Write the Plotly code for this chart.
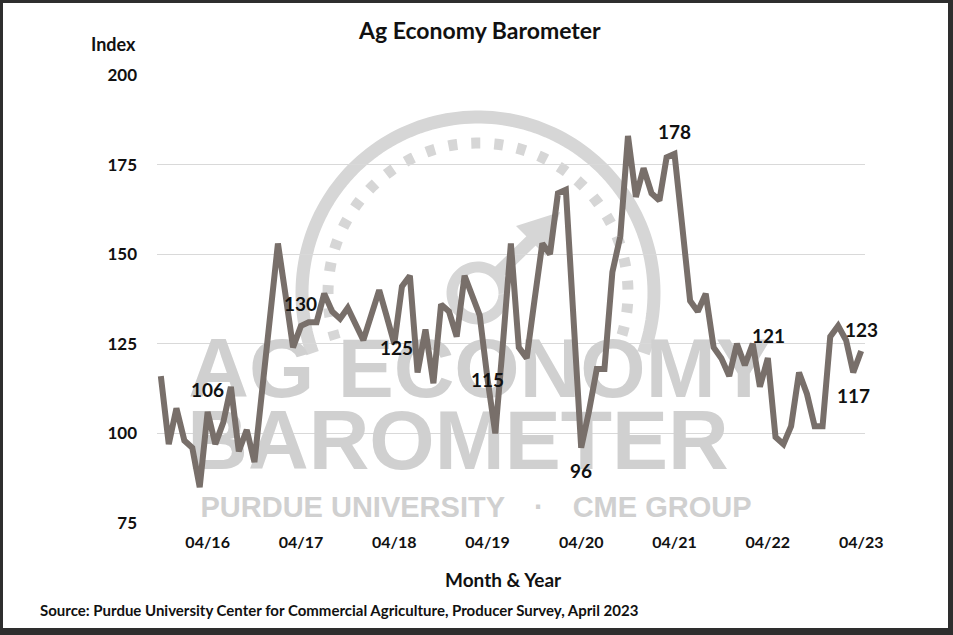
import numpy as np
import pandas as pd
import plotly.graph_objects as go

# ---------------- data ----------------
start_month = "2015-10-01"
index_values = [
    116, 97, 107, 98, 96, 85, 106, 97, 103, 113, 95, 101, 92, 113, 133,
    153, 138, 124, 130, 131, 131, 139, 134, 132, 135, 130, 126, 133, 140, 133,
    125, 141, 144, 117, 129, 114, 136, 134, 127, 144, 138, 133, 115, 100, 126,
    153, 124, 121, 137, 153, 150, 167, 168, 132, 96, 106, 118, 118, 145, 155,
    183, 166, 174, 167, 165, 177, 178, 158, 137, 134, 139, 124, 121, 116, 125,
    119, 125, 113, 121, 99, 97, 102, 117, 111, 102, 102, 127, 130, 126, 117, 123,
]
months = pd.date_range(start_month, periods=len(index_values), freq="MS")

tick_months = ["2016-04-01", "2017-04-01", "2018-04-01", "2019-04-01",
               "2020-04-01", "2021-04-01", "2022-04-01", "2023-04-01"]
tick_text = ["04/16", "04/17", "04/18", "04/19", "04/20", "04/21", "04/22", "04/23"]
y_ticks = [75, 100, 125, 150, 175, 200]

labeled_months = ["2016-04-01", "2017-04-01", "2018-04-01", "2019-04-01", "2020-04-01",
                  "2021-04-01", "2022-04-01", "2023-03-01", "2023-04-01"]
label_yshift = [22, 22, -4, 0, -23, 22, 23, -23, 21]
label_xshift = [0, 0, 2, 0, 0, 0, 1, 0, 0]

# ---------------- layout geometry ----------------
W, H = 953, 635
PL, PT, PW, PH = 157, 75, 708, 448
X0, X1 = pd.Timestamp("2015-09-16"), pd.Timestamp("2023-04-16")
Y0, Y1 = 75, 200


def px(x):
    return (x - PL) / PW


def py(y):
    return (PT + PH - y) / PH


def to_date(x):
    return X0 + (X1 - X0) * ((x - PL) / PW)


def to_val(y):
    return Y1 - (y - PT) * (Y1 - Y0) / PH


FONT = "Lato, 'Open Sans', sans-serif"
LINE_COLOR = "#786f6a"
WM = "#d0d0d0"

fig = go.Figure()

# watermark text (behind the line)
wm_font = "'Liberation Sans', Arial, sans-serif"
fig.add_trace(go.Scatter(
    x=[to_date(480), to_date(458), to_date(476)],
    y=[to_val(376), to_val(448), to_val(510)],
    mode="text",
    text=["AG ECONOMY", "BAROMETER", "PURDUE UNIVERSITY\u2002\u2002·\u2002\u2002CME GROUP"],
    textfont=dict(family=wm_font, size=[84, 84, 29], color=WM, weight="bold"),
    textposition="middle center",
    hoverinfo="skip", showlegend=False, cliponaxis=False,
))

# data line
fig.add_trace(go.Scatter(
    x=months, y=index_values, mode="lines",
    line=dict(color=LINE_COLOR, width=6, shape="linear"),
    hoverinfo="skip", showlegend=False,
))

shapes = []
# white card with dark frame
shapes.append(dict(type="rect", xref="paper", yref="paper",
                   x0=px(3), x1=px(948), y0=py(628), y1=py(3),
                   fillcolor="white", line=dict(width=0), layer="below"))


def poly(points):
    return "M " + " L ".join(f"{px(a):.5f},{py(b):.5f}" for a, b in points)


cx, cy = 478, 293
ang = np.radians(np.linspace(200, -20, 120))
outer = [(cx + 176 * np.cos(t), cy - 176 * np.sin(t)) for t in ang]
shapes.append(dict(type="path", xref="paper", yref="paper", path=poly(outer),
                   line=dict(color="#d6d6d6", width=13), layer="below"))
ang2 = np.radians(np.linspace(198, -18, 120))
inner = [(cx + 150 * np.cos(t), cy - 150 * np.sin(t)) for t in ang2]
shapes.append(dict(type="path", xref="paper", yref="paper", path=poly(inner),
                   line=dict(color="#d6d6d6", width=11, dash="9px,14px"), layer="below"))
ang3 = np.radians(np.linspace(0, 360, 80))
hub = [(cx + 26 * np.cos(t), cy - 26 * np.sin(t)) for t in ang3]
shapes.append(dict(type="path", xref="paper", yref="paper", path=poly(hub),
                   line=dict(color="#d6d6d6", width=11), layer="below"))
shapes.append(dict(type="path", xref="paper", yref="paper",
                   path=poly([(497, 274), (532, 240)]),
                   line=dict(color="#d6d6d6", width=13), layer="below"))
shapes.append(dict(type="path", xref="paper", yref="paper",
                   path=poly([(560, 212), (516, 226), (546, 256)]) + " Z",
                   fillcolor="#d6d6d6", line=dict(width=0), layer="below"))

annotations = []
# data labels
for m, ys, xs in zip(labeled_months, label_yshift, label_xshift):
    i = list(months).index(pd.Timestamp(m))
    annotations.append(dict(x=months[i], y=index_values[i], xref="x", yref="y",
                            text=str(index_values[i]), showarrow=False,
                            yshift=ys, xshift=xs,
                            font=dict(family=FONT, size=19, color="#111", weight="bold")))

annotations += [
    dict(x=px(479), y=py(30), xref="paper", yref="paper", text="Ag Economy Barometer",
         showarrow=False, xanchor="center", yanchor="middle",
         font=dict(family=FONT, size=23, color="#111", weight="bold")),
    dict(x=px(113), y=py(44), xref="paper", yref="paper", text="Index",
         showarrow=False, xanchor="center", yanchor="middle",
         font=dict(family=FONT, size=18, color="#111", weight="bold")),
    dict(x=px(503), y=py(579), xref="paper", yref="paper", text="Month &amp; Year",
         showarrow=False, xanchor="center", yanchor="middle",
         font=dict(family=FONT, size=19, color="#111", weight="bold")),
    dict(x=px(38), y=py(610), xref="paper", yref="paper",
         text="Source: Purdue University Center for Commercial Agriculture, Producer Survey, April 2023",
         showarrow=False, xanchor="left", yanchor="middle",
         font=dict(family=FONT, size=15, color="#111", weight="bold")),
]

fig.update_layout(
    width=W, height=H,
    margin=dict(l=PL, r=W - PL - PW, t=PT, b=H - PT - PH, pad=0),
    paper_bgcolor="#2e2e2e", plot_bgcolor="rgba(0,0,0,0)",
    showlegend=False, hovermode=False,
    shapes=shapes, annotations=annotations,
    xaxis=dict(type="date", range=[X0, X1], tickvals=tick_months, ticktext=tick_text,
               showgrid=False, zeroline=False, showline=False, ticks="",
               ticklabelstandoff=8,
               tickfont=dict(family=FONT, size=16, color="#111", weight="bold")),
    yaxis=dict(range=[Y0, Y1], tickvals=y_ticks, showgrid=True, gridcolor="#d9d9d9",
               gridwidth=1, zeroline=False, showline=False, ticks="",
               ticklabelstandoff=19,
               tickfont=dict(family=FONT, size=17, color="#111", weight="bold")),
)

fig.write_html("out.html")
